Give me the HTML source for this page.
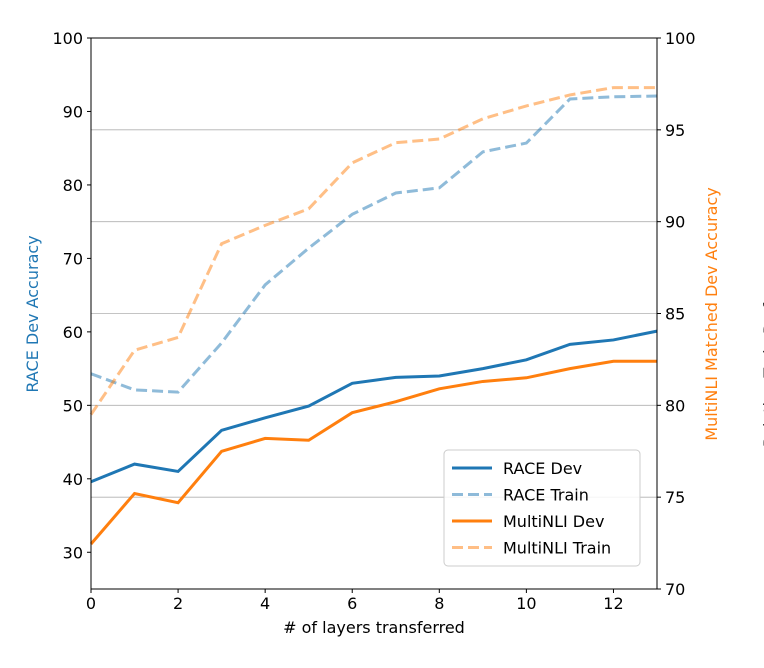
<!DOCTYPE html>
<html><head><meta charset="utf-8"><style>
html,body{margin:0;padding:0;background:#fff;width:764px;height:668px;overflow:hidden}
svg text{font-family:"DejaVu Sans","Liberation Sans",sans-serif}
</style></head><body>
<svg id="chart" width="764" height="668" xmlns="http://www.w3.org/2000/svg"></svg>
<script>
const layers=[0,1,2,3,4,5,6,7,8,9,10,11,12,13];
const raceDev=[39.6,42,41,46.6,48.3,49.9,53,53.8,54,55,56.2,58.3,58.9,60.1];
const raceTrain=[54.3,52.1,51.8,58.5,66.4,71.4,76.0,78.9,79.6,84.5,85.7,91.7,92.0,92.1];
const mnliDev=[72.45,75.2,74.7,77.5,78.2,78.1,79.6,80.2,80.9,81.3,81.5,82.0,82.4,82.4];
const mnliTrain=[79.5,83.0,83.7,88.8,89.8,90.7,93.2,94.3,94.5,95.6,96.3,96.9,97.3,97.3];
const xTicks=[0,2,4,6,8,10,12];
const leftTicks=[30,40,50,60,70,80,90,100];
const rightTicks=[70,75,80,85,90,95,100];
const L=91,R=657,T=38,B=589;
const x=v=>L+(v-0)/13*(R-L);
const yl=v=>B-(v-25)/75*(B-T);
const yr=v=>B-(v-70)/30*(B-T);
const svg=document.getElementById('chart');
const NS='http://www.w3.org/2000/svg';
function mk(tag,attrs,txt){const e=document.createElementNS(NS,tag);for(const k in attrs)e.setAttribute(k,attrs[k]);if(txt!==undefined)e.textContent=txt;svg.appendChild(e);return e;}
rightTicks.forEach(t=>{if(t===70||t===100)return;
 const g=mk('line',{x1:L,x2:R,y1:yr(t),y2:yr(t),stroke:'#b0b0b0','stroke-width':0.8});
 
 });
function series(data,yf,color,dash,name){
 const p=mk('path',{d:data.map((v,i)=>(i?'L':'M')+x(layers[i])+','+yf(v)).join(''),fill:'none',stroke:color,'stroke-width':3,'stroke-dasharray':dash||'none',opacity:dash?0.5:1});
 
 
}
series(raceTrain,yl,'#1f77b4','11,5','race-train-line');
series(mnliTrain,yr,'#ff7f0e','11,5','multinli-train-line');
series(raceDev,yl,'#1f77b4',null,'race-dev-line');
series(mnliDev,yr,'#ff7f0e',null,'multinli-dev-line');
const fr=mk('rect',{x:L,y:T,width:R-L,height:B-T,fill:'none',stroke:'#000','stroke-width':1});


xTicks.forEach(t=>{mk('line',{x1:x(t),x2:x(t),y1:B,y2:B+4,stroke:'#000'});
 const e=mk('text',{x:x(t),y:B+20,'text-anchor':'middle','font-size':16},t);
 
 });
leftTicks.forEach(t=>{mk('line',{x1:L-4,x2:L,y1:yl(t),y2:yl(t),stroke:'#000'});
 const e=mk('text',{x:L-8,y:yl(t)+6,'text-anchor':'end','font-size':16},t);
 
 });
rightTicks.forEach(t=>{mk('line',{x1:R,x2:R+4,y1:yr(t),y2:yr(t),stroke:'#000'});
 const e=mk('text',{x:R+8,y:yr(t)+6,'font-size':16},t);
 
 });
let e=mk('text',{x:374,y:633,'text-anchor':'middle','font-size':16},'# of layers transferred');


e=mk('text',{x:0,y:0,'text-anchor':'middle','font-size':16,fill:'#1f77b4',transform:'translate(38,314) rotate(-90)'},'RACE Dev Accuracy');


e=mk('text',{x:0,y:0,'text-anchor':'middle','font-size':16,fill:'#ff7f0e',transform:'translate(717,314) rotate(-90)'},'MultiNLI Matched Dev Accuracy');


e=mk('text',{x:0,y:0,'text-anchor':'middle','font-size':16,fill:'#333',transform:'translate(775,340) rotate(-90)'},'Relative Train Performance');


const lg=mk('rect',{x:444,y:450,width:196,height:116,rx:4,fill:'#fff','fill-opacity':0.85,stroke:'#ccc'});


[['RACE Dev','#1f77b4',null],['RACE Train','#1f77b4','11,5'],['MultiNLI Dev','#ff7f0e',null],['MultiNLI Train','#ff7f0e','11,5']].forEach((d,i)=>{
 const yy=468+i*26.5;
 mk('line',{x1:452,x2:492,y1:yy,y2:yy,stroke:d[1],'stroke-width':3,'stroke-dasharray':d[2]||'none',opacity:d[2]?0.5:1});
 const t=mk('text',{x:503,y:yy+6,'font-size':16},d[0]);
 
 
});
</script>
</body></html>
